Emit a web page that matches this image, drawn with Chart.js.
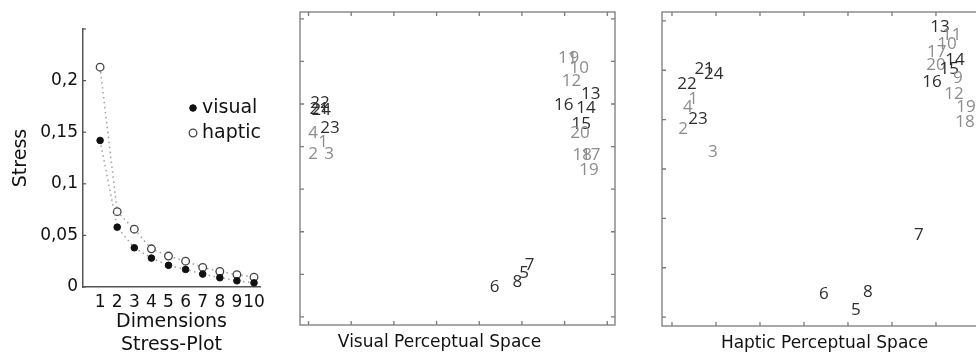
<!DOCTYPE html>
<html>
<head>
<meta charset="utf-8">
<title>Stress plot and perceptual spaces</title>
<script src="https://cdn.jsdelivr.net/npm/chart.js@4.4.0/dist/chart.umd.min.js"></script>
<style>
  html, body { margin: 0; padding: 0; background: #fff; }
  body { width: 976px; height: 357px; position: relative; overflow: hidden; }
  canvas { position: absolute; top: 0; }
  #stressChart { left: 0; }
  #visualChart { left: 290px; }
  #hapticChart { left: 650px; }
</style>
</head>
<body>
<canvas id="stressChart" width="290" height="357"></canvas>
<canvas id="visualChart" width="340" height="357"></canvas>
<canvas id="hapticChart" width="350" height="357"></canvas>
<script>
// Stress plot
const dimensions = [1, 2, 3, 4, 5, 6, 7, 8, 9, 10];
const stressVisual = [0.142, 0.058, 0.038, 0.028, 0.021, 0.017, 0.0125, 0.009, 0.006, 0.004];
const stressHaptic = [0.213, 0.073, 0.056, 0.037, 0.030, 0.025, 0.019, 0.015, 0.012, 0.0095];
const stressTicks = [0, 0.05, 0.1, 0.15, 0.2];

// Stimuli drawn in dark text, the rest are grey
const darkStimuli = [5, 6, 7, 8, 13, 14, 15, 16, 21, 22, 23, 24];

// Visual perceptual space (MDS coordinates, arbitrary units)
const visualIds = [22, 21, 24, 4, 23, 1, 2, 3, 11, 9, 10, 12, 13, 16, 14, 15, 20, 18, 17, 19, 6, 8, 5, 7];
const visualX = [0.27, 0.25, 0.30, 0.11, 0.50, 0.34, 0.11, 0.48, 6.07, 6.23, 6.34, 6.16, 6.61, 5.98, 6.50, 6.39, 6.36, 6.41, 6.61, 6.57, 4.36, 4.89, 5.05, 5.18];
const visualY = [5.03, 4.89, 4.86, 4.32, 4.44, 4.11, 3.83, 3.83, 6.08, 6.08, 5.85, 5.54, 5.24, 4.98, 4.91, 4.53, 4.32, 3.81, 3.81, 3.45, 0.70, 0.82, 1.03, 1.22];

// Haptic perceptual space
const hapticIds = [13, 11, 10, 17, 14, 20, 15, 16, 9, 12, 19, 18, 21, 24, 22, 1, 4, 23, 2, 3, 7, 6, 8, 5];
const hapticX = [6.09, 6.36, 6.25, 6.02, 6.43, 6.00, 6.30, 5.91, 6.50, 6.41, 6.68, 6.66, 0.73, 0.95, 0.34, 0.48, 0.36, 0.59, 0.25, 0.93, 5.61, 3.45, 4.45, 4.18];
const hapticY = [5.88, 5.72, 5.53, 5.37, 5.21, 5.11, 5.03, 4.76, 4.84, 4.52, 4.26, 3.95, 5.03, 4.93, 4.72, 4.42, 4.26, 4.01, 3.81, 3.34, 1.66, 0.47, 0.51, 0.14];

const visualTitle = 'Visual Perceptual Space';
const hapticTitle = 'Haptic Perceptual Space';

const AXIS_FONT = 'DejaVu Sans';

// legend + small inward ticks for the stress plot
const stressExtras = {
  id: 'stressExtras',
  afterDraw(chart, args, opts) {
    const { ctx, chartArea: a, scales: { y } } = chart;
    ctx.save();
    ctx.strokeStyle = '#555';
    ctx.lineWidth = 1.2;
    stressTicks.concat([y.max]).forEach(v => {
      const py = y.getPixelForValue(v);
      ctx.beginPath();
      ctx.moveTo(a.left, py);
      ctx.lineTo(a.left + 3, py);
      ctx.stroke();
    });

    chart.data.datasets.forEach((ds, i) => {
      const ly = opts.y + i * opts.gap;
      ctx.beginPath();
      ctx.arc(opts.x, ly, ds.pointRadius, 0, Math.PI * 2);
      ctx.fillStyle = ds.pointBackgroundColor;
      ctx.fill();
      ctx.lineWidth = ds.pointBorderWidth;
      ctx.strokeStyle = ds.pointBorderColor;
      ctx.stroke();
      ctx.fillStyle = '#111';
      ctx.font = '19px "' + AXIS_FONT + '"';
      ctx.textBaseline = 'middle';
      ctx.textAlign = 'left';
      ctx.fillText(ds.label, opts.x + 9, ly);
    });
    ctx.restore();
  }
};

new Chart(document.getElementById('stressChart'), {
  type: 'scatter',
  data: {
    datasets: [
      {
        label: 'visual',
        data: dimensions.map((d, i) => ({ x: d, y: stressVisual[i] })),
        showLine: true,
        borderColor: '#a0a0a0',
        borderDash: [1.5, 3.5],
        borderWidth: 1.5,
        pointRadius: 3.3,
        pointBackgroundColor: '#111',
        pointBorderColor: '#111',
        pointBorderWidth: 1
      },
      {
        label: 'haptic',
        data: dimensions.map((d, i) => ({ x: d, y: stressHaptic[i] })),
        showLine: true,
        borderColor: '#a0a0a0',
        borderDash: [1.5, 3.5],
        borderWidth: 1.5,
        pointRadius: 3.8,
        pointBackgroundColor: '#fff',
        pointBorderColor: '#444',
        pointBorderWidth: 1.3
      }
    ]
  },
  options: {
    responsive: false,
    animation: false,
    clip: false,
    layout: { padding: { left: 0, top: 29, right: 30, bottom: 0 } },
    plugins: {
      legend: { display: false },
      tooltip: { enabled: false },
      stressExtras: { x: 193, y: 108, gap: 25 }
    },
    scales: {
      x: {
        type: 'linear',
        min: 0,
        max: 10.35,
        afterBuildTicks: s => { s.ticks = dimensions.map(v => ({ value: v })); },
        afterFit: s => { s.height = 70; },
        ticks: {
          autoSkip: false,
          maxRotation: 0,
          padding: 5,
          color: '#111',
          font: { family: AXIS_FONT, size: 17 }
        },
        grid: { display: false, drawTicks: false },
        border: { color: '#555', width: 1.5 },
        title: {
          display: true,
          text: ['Dimensions', 'Stress-Plot'],
          color: '#111',
          font: { family: AXIS_FONT, size: 19, lineHeight: 1.2 },
          padding: { top: 0, bottom: 1 }
        }
      },
      y: {
        min: 0,
        max: 0.25,
        afterBuildTicks: s => { s.ticks = stressTicks.map(v => ({ value: v })); },
        afterFit: s => { s.width = 83; },
        ticks: {
          padding: 5,
          color: '#111',
          font: { family: AXIS_FONT, size: 17 },
          callback: v => String(v).replace('.', ',')
        },
        grid: { display: false, drawTicks: false },
        border: { color: '#555', width: 1.5 },
        title: {
          display: true,
          text: 'Stress',
          color: '#111',
          font: { family: AXIS_FONT, size: 19, lineHeight: 1.2 },
          padding: { top: 10, bottom: 0 }
        }
      }
    }
  },
  plugins: [stressExtras]
});

// boxed frame with inward ticks, stimulus numbers and caption
const spacePlot = {
  id: 'spacePlot',
  afterDatasetsDraw(chart, args, opts) {
    const { ctx, chartArea: a, scales: { x, y } } = chart;
    ctx.save();
    ctx.strokeStyle = '#7a7a7a';
    ctx.lineWidth = 1.3;
    ctx.strokeRect(a.left, a.top, a.right - a.left, a.bottom - a.top);
    ctx.beginPath();
    for (let v = Math.ceil(x.min); v <= x.max; v++) {
      const px = x.getPixelForValue(v);
      ctx.moveTo(px, a.bottom); ctx.lineTo(px, a.bottom - 4);
      ctx.moveTo(px, a.top); ctx.lineTo(px, a.top + 4);
    }
    for (let v = Math.ceil(y.min); v <= y.max; v++) {
      const py = y.getPixelForValue(v);
      ctx.moveTo(a.left, py); ctx.lineTo(a.left + 4, py);
      ctx.moveTo(a.right, py); ctx.lineTo(a.right - 4, py);
    }
    ctx.stroke();

    const ds = chart.data.datasets[0];
    const meta = chart.getDatasetMeta(0);
    ctx.font = '17px "Open Sans"';
    ctx.textAlign = 'center';
    ctx.textBaseline = 'middle';
    meta.data.forEach((pt, i) => {
      const id = ds.data[i].id;
      ctx.fillStyle = darkStimuli.includes(id) ? '#2e2e2e' : '#8c8c8c';
      ctx.fillText(String(id), pt.x, pt.y);
    });

    ctx.fillStyle = '#111';
    ctx.font = '17px "' + AXIS_FONT + '"';
    ctx.fillText(opts.caption, (a.left + a.right) / 2 + opts.captionShift, a.bottom + 18);
    ctx.restore();
  }
};

function spaceChart(canvasId, ids, xs, ys, caption, captionShift, padding, xRange, yRange) {
  return new Chart(document.getElementById(canvasId), {
    type: 'scatter',
    data: {
      datasets: [{
        data: ids.map((id, i) => ({ x: xs[i], y: ys[i], id: id })),
        pointRadius: 0,
        pointHoverRadius: 0
      }]
    },
    options: {
      responsive: false,
      animation: false,
      events: [],
      layout: { padding: padding },
      plugins: {
        legend: { display: false },
        tooltip: { enabled: false },
        spacePlot: { caption: caption, captionShift: captionShift }
      },
      scales: {
        x: { type: 'linear', display: false, min: xRange[0], max: xRange[1] },
        y: { type: 'linear', display: false, min: yRange[0], max: yRange[1] }
      }
    },
    plugins: [spacePlot]
  });
}

spaceChart('visualChart', visualIds, visualX, visualY, visualTitle, -18,
  { left: 10, right: 15, top: 12, bottom: 32 }, [-0.2, 7.18], [-0.19, 7.16]);

spaceChart('hapticChart', hapticIds, hapticX, hapticY, hapticTitle, 0,
  { left: 12, right: 13, top: 12, bottom: 31 }, [-0.227, 7.16], [-0.18, 6.18]);
</script>
</body>
</html>
